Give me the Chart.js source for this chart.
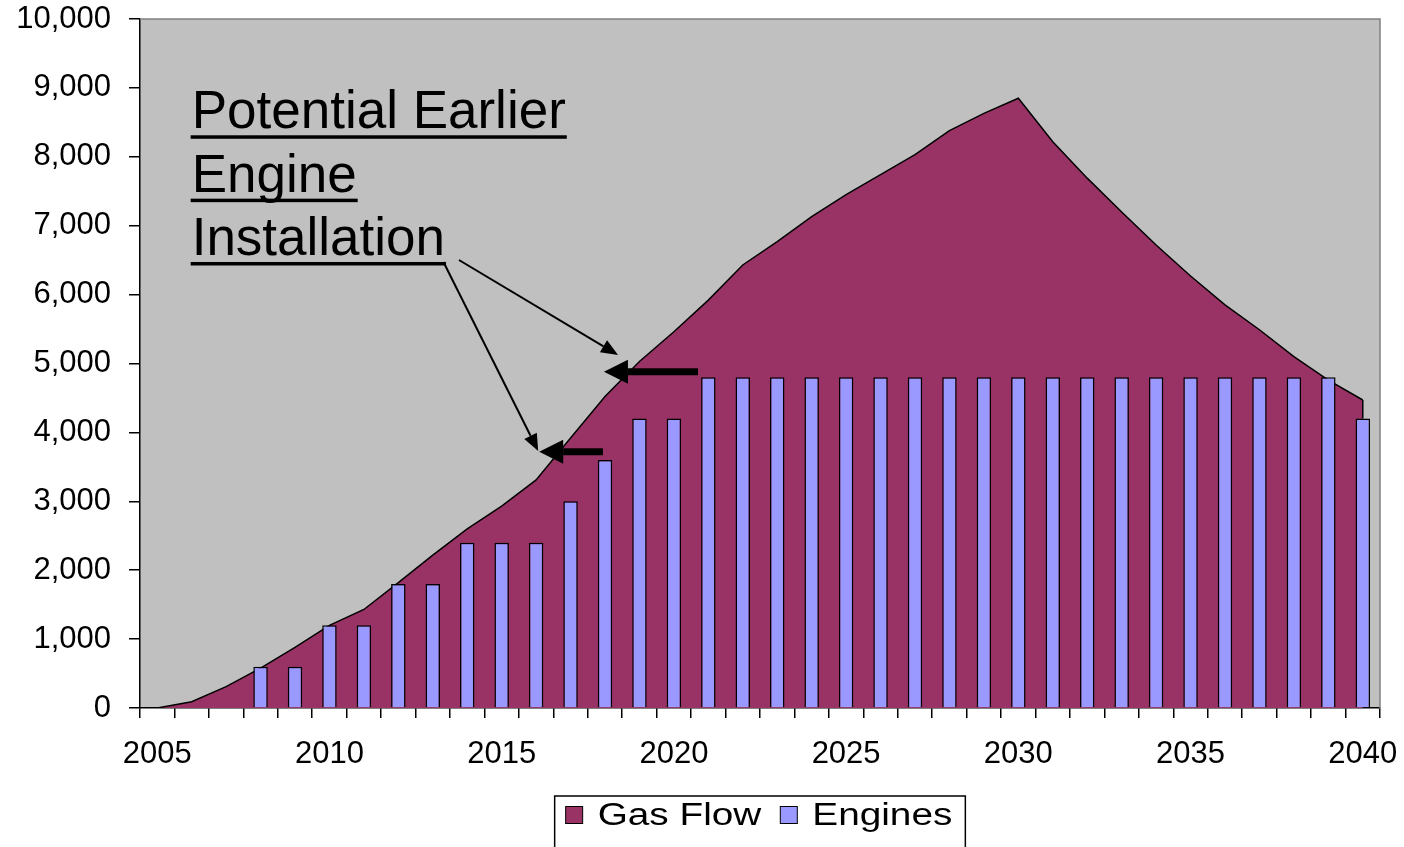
<!DOCTYPE html>
<html>
<head>
<meta charset="utf-8">
<script src="https://cdn.jsdelivr.net/npm/chart.js@4/dist/chart.umd.min.js"></script>
<style>
  html, body { margin: 0; padding: 0; background: #fff; }
  #wrap { width: 1404px; height: 847px; }
</style>
</head>
<body>
<div id="wrap"><canvas id="gasChart" width="1404" height="847"></canvas></div>
<script>
const years = [];
for (let y = 2005; y <= 2040; y++) years.push(String(y));

const gasFlow = [0, 90, 310, 580, 880, 1200, 1430, 1820, 2220, 2600, 2930, 3310,
  3920, 4520, 5030, 5460, 5920, 6430, 6770, 7130, 7450, 7740, 8030, 8380,
  8630, 8850, 8220, 7690, 7200, 6720, 6270, 5850, 5490, 5100, 4760, 4470];

const engines = [null, null, null, 600, 600, 1200, 1200, 1800, 1800, 2400, 2400, 2400,
  3000, 3600, 4200, 4200, 4800, 4800, 4800, 4800, 4800, 4800, 4800, 4800,
  4800, 4800, 4800, 4800, 4800, 4800, 4800, 4800, 4800, 4800, 4800, 4200];

const noteLines = ['Potential Earlier', 'Engine', 'Installation'];

const FONT = "'Liberation Sans', Arial, sans-serif";

// fond gris de la zone de tracé + cadre gris
const plotBg = {
  id: 'plotBg',
  beforeDraw(chart) {
    const { ctx, chartArea: a } = chart;
    ctx.save();
    ctx.fillStyle = '#C0C0C0';
    ctx.fillRect(a.left, a.top, a.right - a.left, a.bottom - a.top);
    ctx.restore();
  },
  afterDraw(chart) {
    const { ctx, chartArea: a } = chart;
    ctx.save();
    ctx.strokeStyle = '#808080';
    ctx.lineWidth = 1.5;
    ctx.beginPath();
    ctx.moveTo(a.left, a.top);
    ctx.lineTo(a.right, a.top);
    ctx.lineTo(a.right, a.bottom);
    ctx.stroke();
    ctx.restore();
  }
};

function arrow(ctx, x1, y1, x2, y2, width, headLen, headHalf) {
  const ang = Math.atan2(y2 - y1, x2 - x1);
  const bx = x2 - headLen * Math.cos(ang);
  const by = y2 - headLen * Math.sin(ang);
  ctx.lineWidth = width;
  ctx.beginPath();
  ctx.moveTo(x1, y1);
  ctx.lineTo(bx, by);
  ctx.stroke();
  ctx.beginPath();
  ctx.moveTo(x2, y2);
  ctx.lineTo(bx + headHalf * Math.sin(ang), by - headHalf * Math.cos(ang));
  ctx.lineTo(bx - headHalf * Math.sin(ang), by + headHalf * Math.cos(ang));
  ctx.closePath();
  ctx.fill();
}

// texte souligné et flèches
const notes = {
  id: 'notes',
  afterDatasetsDraw(chart) {
    const { ctx } = chart;
    const x = chart.scales.x, y = chart.scales.y;
    const px = i => x.getPixelForValue(i);
    const py = v => y.getPixelForValue(v);
    ctx.save();
    ctx.fillStyle = '#000';
    ctx.strokeStyle = '#000';
    ctx.font = '53px ' + FONT;
    ctx.textBaseline = 'alphabetic';
    const baseVals = [8414, 7494, 6575];
    const left = px(1);
    noteLines.forEach((t, k) => {
      const b = py(baseVals[k]);
      ctx.fillText(t, left, b);
      const w = ctx.measureText(t).width;
      ctx.fillRect(left - 1, b + 7, w + 2, 3.5);
    });
    ctx.lineCap = 'butt';
    arrow(ctx, px(8.31), py(6473), px(11.06), py(3730), 2, 17, 7);
    arrow(ctx, px(8.76), py(6502), px(13.38), py(5123), 2, 17, 7);
    arrow(ctx, px(15.7), py(4880), px(12.97), py(4880), 7, 24, 12);
    arrow(ctx, px(12.94), py(3720), px(11.09), py(3720), 7, 24, 12);
    // bord vertical de l'aire en 2040
    const last = gasFlow.length - 1;
    ctx.lineWidth = 1.5;
    ctx.beginPath();
    ctx.moveTo(px(last), py(gasFlow[last]));
    ctx.lineTo(px(last), py(engines[last]));
    ctx.stroke();
    ctx.restore();
  }
};

// légende encadrée façon Excel
const boxLegend = {
  id: 'boxLegend',
  afterDraw(chart) {
    const { ctx, chartArea: a } = chart;
    const ds = chart.data.datasets;
    const sx = 1.25;
    ctx.save();
    ctx.font = '31px ' + FONT;
    ctx.textBaseline = 'middle';
    const sq = 17, gap = 15, between = 19, pad = 11;
    let total = 0;
    ds.forEach((d, i) => {
      total += sq + gap + ctx.measureText(d.label).width * sx;
      if (i < ds.length - 1) total += between;
    });
    const boxW = total + pad * 2 + 2;
    const boxL = (a.left + a.right) / 2 - boxW / 2;
    const boxT = 796;
    ctx.fillStyle = '#fff';
    ctx.fillRect(boxL, boxT, boxW, 60);
    ctx.strokeStyle = '#000';
    ctx.lineWidth = 1.5;
    ctx.strokeRect(boxL, boxT, boxW, 60);
    let cx = boxL + pad;
    const cy = 815;
    ds.forEach(d => {
      ctx.fillStyle = d.backgroundColor;
      ctx.fillRect(cx, cy - sq / 2, sq, sq);
      ctx.strokeStyle = '#000';
      ctx.lineWidth = 1;
      ctx.strokeRect(cx, cy - sq / 2, sq, sq);
      cx += sq + gap;
      ctx.fillStyle = '#000';
      ctx.save();
      ctx.translate(cx, cy + 1);
      ctx.scale(sx, 1);
      ctx.fillText(d.label, 0, 0);
      ctx.restore();
      cx += ctx.measureText(d.label).width * sx + between;
    });
    ctx.restore();
  }
};

const ctx = document.getElementById('gasChart').getContext('2d');
new Chart(ctx, {
  type: 'bar',
  data: {
    labels: years,
    datasets: [
      {
        type: 'line',
        label: 'Gas Flow',
        data: gasFlow,
        backgroundColor: '#993366',
        borderColor: '#000',
        borderWidth: 1.5,
        fill: 'origin',
        pointRadius: 0,
        tension: 0,
        order: 2
      },
      {
        type: 'bar',
        label: 'Engines',
        data: engines,
        backgroundColor: '#9999FF',
        borderColor: '#000',
        borderWidth: 1.5,
        barPercentage: 0.42,
        categoryPercentage: 1,
        order: 1
      }
    ]
  },
  options: {
    responsive: false,
    animation: false,
    layout: { padding: { top: 19, right: 24, bottom: 51, left: 0 } },
    plugins: {
      legend: { display: false },
      tooltip: { enabled: false }
    },
    scales: {
      x: {
        offset: true,
        grid: { offset: true, drawOnChartArea: false, drawTicks: true, tickLength: 10, color: '#000', lineWidth: 1.5 },
        border: { color: '#000', width: 1.5 },
        ticks: {
          autoSkip: false,
          maxRotation: 0,
          padding: 18,
          color: '#000',
          font: { family: FONT, size: 31 },
          callback: function (v) {
            const lbl = this.getLabelForValue(v);
            return Number(lbl) % 5 === 0 ? lbl : '';
          }
        },
        afterFit: s => { s.height = 88; s.paddingLeft = 0; s.paddingRight = 0; }
      },
      y: {
        min: 0,
        max: 10000,
        grid: { drawOnChartArea: false, drawTicks: true, tickLength: 11, color: '#000', lineWidth: 1.5 },
        border: { color: '#000', width: 1.5 },
        ticks: {
          stepSize: 1000,
          padding: 18,
          color: '#000',
          font: { family: FONT, size: 31 },
          callback: v => v.toLocaleString('en-US')
        },
        afterFit: s => { s.width = 140; s.paddingTop = 0; s.paddingBottom = 0; }
      }
    }
  },
  plugins: [plotBg, notes, boxLegend]
});
</script>
</body>
</html>
